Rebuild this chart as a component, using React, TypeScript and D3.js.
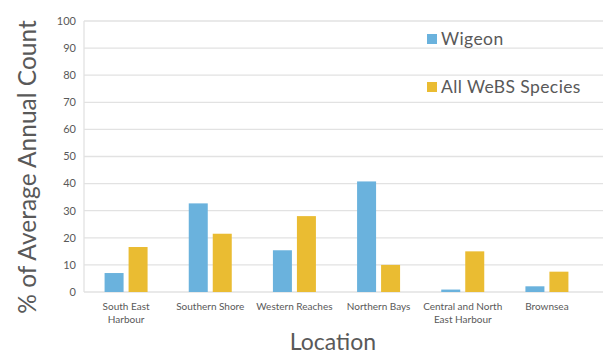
import React from "react";
import * as d3 from "d3";

const categories = [
  ["South East", "Harbour"],
  ["Southern Shore"],
  ["Western Reaches"],
  ["Northern Bays"],
  ["Central and North", "East Harbour"],
  ["Brownsea"],
];
const wigeon = [7.0, 32.7, 15.4, 40.8, 0.9, 2.1];
const allWebs = [16.6, 21.5, 28.0, 10.0, 15.0, 7.5];
const seriesNames = ["Wigeon", "All WeBS Species"];
const seriesColors = ["#6ab2dd", "#eabc32"];
const yTicks = [0, 10, 20, 30, 40, 50, 60, 70, 80, 90, 100];

const W = 603;
const H = 356;
const FONT = "Lato, 'DejaVu Sans', sans-serif";
const TXT = "#595959";

export default function App() {
  const left = 84;
  const right = 589;
  const top = 21;
  const bottom = 292;
  const x = d3.scaleBand<number>().domain(d3.range(categories.length)).range([left, right]);
  const y = d3.scaleLinear().domain([0, 100]).range([bottom, top]);
  const barW = 19;
  const gap = 5;
  const series = [wigeon, allWebs];

  return (
    <svg
      width={W}
      height={H}
      style={{ position: "absolute", left: 0, top: 0, background: "#fff" }}
      fontFamily={FONT}
    >
      {yTicks.map((t) => (
        <g key={t}>
          <line x1={left} x2={W} y1={y(t)} y2={y(t)} stroke="#e2e2e2" strokeWidth={1.3} />
          <text x={76} y={y(t)} dy="0.35em" textAnchor="end" fontSize={11} fill={TXT}>
            {t}
          </text>
        </g>
      ))}
      <line x1={left} x2={left} y1={top} y2={bottom} stroke="#e2e2e2" strokeWidth={1.3} />
      {series.map((vals, si) =>
        vals.map((v, i) => {
          const cx = x(i)! + x.bandwidth() / 2;
          const bx = si === 0 ? cx - gap / 2 - barW : cx + gap / 2;
          return (
            <rect
              key={`${si}-${i}`}
              x={bx}
              y={y(v)}
              width={barW}
              height={bottom - y(v)}
              fill={seriesColors[si]}
            />
          );
        })
      )}
      {categories.map((lines, i) => {
        const cx = x(i)! + x.bandwidth() / 2;
        return (
          <text key={i} textAnchor="middle" fontSize={10} fill={TXT}>
            {lines.map((l, j) => (
              <tspan key={j} x={cx} y={310 + j * 13}>
                {l}
              </tspan>
            ))}
          </text>
        );
      })}
      {seriesNames.map((n, i) => (
        <g key={n}>
          <rect x={427} y={34 + i * 48} width={10} height={10} fill={seriesColors[i]} />
          <text x={441} y={45 + i * 48} fontSize={17.5} letterSpacing={0.4} fill={TXT}>
            {n}
          </text>
        </g>
      ))}
      <text x={333} y={350} textAnchor="middle" fontSize={23} fill={TXT}>
        Location
      </text>
      <text
        transform={`translate(36, 167) rotate(-90)`}
        textAnchor="middle"
        fontSize={24.5}
        fill={TXT}
      >
        % of Average Annual Count
      </text>
    </svg>
  );
}
